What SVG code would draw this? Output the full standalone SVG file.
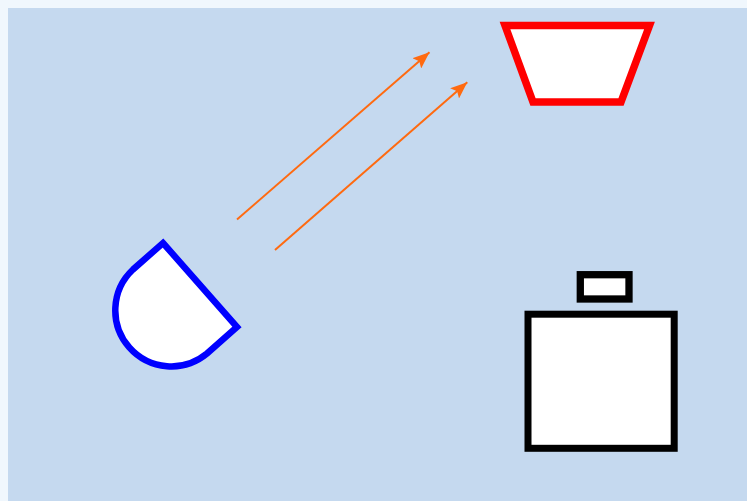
<svg xmlns="http://www.w3.org/2000/svg" width="747" height="501" viewBox="0 0 747 501">
<style>
.conn{stroke:#ff6a10;stroke-width:2;fill:none;marker-end:url(#ah)}
.shape{fill:#ffffff;stroke-linejoin:miter}
</style>
<defs>
<marker id="ah" markerUnits="userSpaceOnUse" markerWidth="18" markerHeight="14" refX="15" refY="6" orient="auto" viewBox="0 0 16 12">
<path d="M0,0 L15,6 L0,12 L3,6 Z" fill="#ff6a10"/>
</marker>
</defs>
<rect x="0" y="0" width="747" height="501" fill="#f0f7fd"/>
<rect x="8" y="8" width="739" height="493" fill="#c5d9ef"/>
<g id="connectors">
<line class="conn" x1="237" y1="219.5" x2="429.5" y2="52.3"/>
<line class="conn" x1="275" y1="250" x2="467.3" y2="82.3"/>
</g>
<g id="node-blue">
<path class="shape" d="M163,243 L237,327 L207,353.5 A56,56 0 0 1 133,269.5 Z" stroke="#0000ff" stroke-width="6.5"/>
</g>
<g id="node-red">
<polygon class="shape" points="505,25.5 649.5,25.5 621,102 533,102" stroke="#ff0000" stroke-width="7.5"/>
</g>
<g id="node-small">
<rect class="shape" x="580.3" y="274.7" width="48.7" height="24.3" stroke="#000000" stroke-width="7.3"/>
</g>
<g id="node-big">
<rect class="shape" x="528" y="314.2" width="146.2" height="134.1" stroke="#000000" stroke-width="7"/>
</g>
</svg>
